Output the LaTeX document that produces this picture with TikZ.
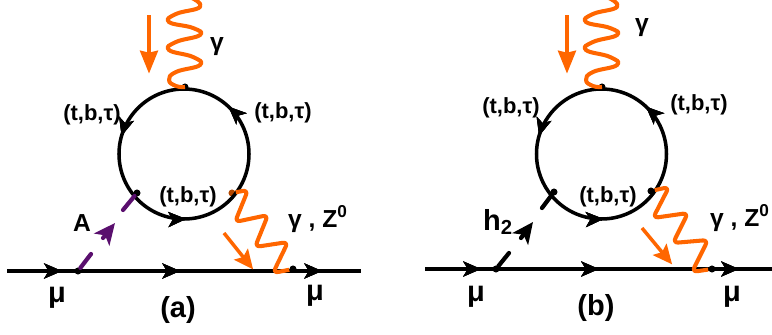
\documentclass[tikz,border=0pt]{standalone}
\usepackage{fontspec}
\setmainfont{Liberation Sans}
\usetikzlibrary{arrows.meta,decorations.markings}
\definecolor{photon}{HTML}{FF6600}
\definecolor{higgs}{HTML}{5A0F6E}
\tikzset{
  fermion/.style={line width=2pt,black},
  wave/.style={line width=2.3pt,photon,line join=round},
  push/.style={line width=2.6pt,photon,-{Stealth[length=13pt,width=10pt,inset=1pt]},shorten >=-1pt},
  pushlow/.style={line width=2pt,photon,-{Stealth[length=11pt,width=10pt,inset=2pt]},shorten >=-1pt},
  vertex/.style={circle,fill=black,inner sep=0pt,minimum size=4pt},
  lab/.style={font=\bfseries\fontsize{12.5}{12.5}\selectfont,inner sep=0pt},
  mid/.style={font=\bfseries\fontsize{14}{14}\selectfont,inner sep=0pt},
  big/.style={font=\bfseries\fontsize{16.5}{16.5}\selectfont,inner sep=0pt},
  tip/.style={decoration={markings,mark=at position #1 with {\arrow{Stealth[length=10pt,width=8.5pt,inset=2.5pt]}}},postaction={decorate}},
  scalar/.style={line width=2.4pt,line cap=round},
  scalartip/.style={-{Stealth[length=12pt,width=11pt,inset=3pt]}}
}
\begin{document}
\begin{tikzpicture}[x=.02cm,y=-.02cm]
  \useasboundingbox (0,0) rectangle (772,335);
  % panel a
  \coordinate (ca) at (184,154);
  \coordinate (ina) at (7,271);
  \coordinate (outa) at (361,271);
  \node[vertex] (v0a) at (185,87) {};
  \node[vertex] (v1a) at (78,271) {};
  \node[vertex] (v2a) at (137,193) {};
  \node[vertex,fill=photon!70!black] (v3a) at (232,193) {};
  \node[vertex] (v4a) at (293,269) {};
  \coordinate (s1a) at (91,254);
  \coordinate (s2a) at (103,238);
  \coordinate (s3a) at (115,223);
  \coordinate (s4a) at (123,210);
  \draw[fermion,tip=.155,tip=.489,tip=.89] (ina)--(outa);
  \draw[fermion,tip=.13,tip=.455,tip=.755] ([xshift=65*.02cm]ca)
    arc[start angle=0,end angle=-360,radius=65];
  \draw[scalar,higgs] (v1a)--(s1a) (s4a)--(v2a);
  \draw[scalar,higgs,scalartip] (s2a)--(s3a);
  \draw[wave] plot[smooth,tension=.8] coordinates {(v0a) (176,86) (169,80) (176,72) (200,65)
    (193,57) (169,50) (176,42) (200,35) (193,28) (169,22) (176,14) (200,7) (192,-2)};
  \draw[wave,rounded corners=3pt] (v3a)--(248,190)--(235,222)--(268,215)--(255,247)--(288,242)
    --(273,273)--(v4a);
  \draw[push] (149,15)--(149,72);
  \draw[pushlow] (224,233)--(252,268);
  \node[mid] (ga) at (217,47) {γ};
  \node[lab] (f1a) at (92,115) {(t,b,τ)};
  \node[lab] (f2a) at (283,113) {(t,b,τ)};
  \node[lab] (f3a) at (188,197) {(t,b,τ)};
  \node[mid] (za) at (318,219) {γ , Z$^{\mathbf 0}$};
  \node[mid] (aa) at (82,223) {A};
  \node[big] (m1a) at (57,298) {μ};
  \node[big] (m2a) at (315,296) {μ};
  \node[big] (nma) at (178,310) {(a)};
  % panel b
  \coordinate (cb) at (601.5,154);
  \coordinate (inb) at (425,269);
  \coordinate (outb) at (775,269);
  \node[vertex] (v0b) at (602,87) {};
  \node[vertex] (v1b) at (496,269) {};
  \node[vertex] (v2b) at (554,192) {};
  \node[vertex] (v3b) at (651,191) {};
  \node[vertex] (v4b) at (712,269) {};
  \coordinate (s1b) at (509,253);
  \coordinate (s2b) at (521,238);
  \coordinate (s3b) at (533,222);
  \coordinate (s4b) at (542,208);
  \draw[fermion,tip=.16,tip=.497,tip=.897] (inb)--(outb);
  \draw[fermion,tip=.13,tip=.455,tip=.755] ([xshift=65*.02cm]cb)
    arc[start angle=0,end angle=-360,radius=65];
  \draw[scalar] (v1b)--(s1b) (s4b)--(v2b);
  \draw[scalar,scalartip] (s2b)--(s3b);
  \draw[wave] plot[smooth,tension=.8] coordinates {(v0b) (593,86) (586,80) (593,72) (617,65)
    (610,57) (586,50) (593,42) (617,35) (610,28) (586,22) (593,14) (617,7) (609,-2)};
  \draw[wave,rounded corners=3pt] (v3b)--(669,187)--(653,218)--(688,213)--(673,243)--(708,240)
    --(692,272)--(v4b);
  \draw[push] (567,15)--(567,72);
  \draw[pushlow] (642,228)--(671,263);
  \node[mid] (gb) at (642,28) {γ};
  \node[lab] (f1b) at (511,108) {(t,b,τ)};
  \node[lab] (f2b) at (699,105) {(t,b,τ)};
  \node[lab] (f3b) at (608,197) {(t,b,τ)};
  \node[mid] (zb) at (740,218) {γ , Z$^{\mathbf 0}$};
  \node[big] (hb) at (498,222) {h$_{\mathbf 2}$};
  \node[big] (m1b) at (476,297) {μ};
  \node[big] (m2b) at (732,297) {μ};
  \node[big] (nmb) at (596,308) {(b)};
\end{tikzpicture}
\end{document}
